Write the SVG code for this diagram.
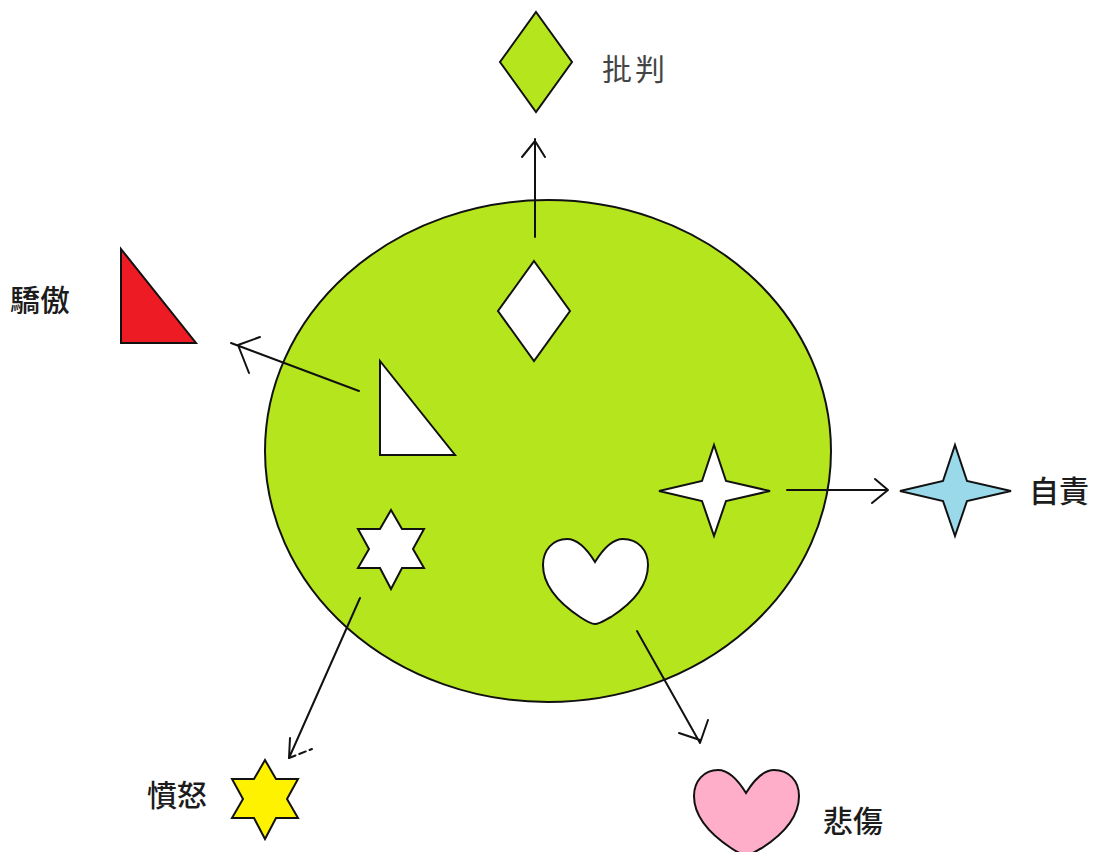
<svg xmlns="http://www.w3.org/2000/svg" width="1094" height="852" viewBox="0 0 1094 852">
<style>
.o{stroke:#111;stroke-width:2;stroke-linejoin:miter}
.c{fill:none;stroke:#111;stroke-width:2;stroke-linecap:round;stroke-linejoin:round}
.w{fill:#fff}
text{font-family:"Noto Sans CJK TC","Noto Sans CJK SC",sans-serif;font-size:30px;font-weight:500;fill:#1c1c1c}
</style>
<defs>
<path id="heart" d="M52,23 C44,10 35,0 24,0 C10,0 0,11 0,26 C0,50 22,68 37,78 C43,82 48,85 52,85 C57,85 62,81 68,78 C85,67 105,50 105,26 C105,11 95,0 80,0 C69,0 60,10 52,23Z"/>
<path id="star6" d="M33,0 L44,19 L66,19 L55,39 L66,58 L44,58 L33,79 L22,58 L0,58 L11,39 L0,19 L22,19Z"/>
<path id="star4" d="M55,0 L67,36 L111,46 L67,56 L55,91 L43,56 L0,46 L43,36Z"/>
<path id="dia" d="M36,0 L72,50 L36,100 L0,50Z"/>
<path id="tri" d="M0,0 L0,94 L75,94Z"/>
</defs>
<rect width="1094" height="852" fill="#fff"/>
<g id="circle"><ellipse cx="548" cy="451" rx="283" ry="251" fill="#b5e61d" class="o"/></g>
<g id="inner-diamond"><use href="#dia" x="498" y="261" class="o w"/></g>
<g id="inner-triangle"><use href="#tri" x="380" y="361" class="o w"/></g>
<g id="inner-star4"><use href="#star4" x="659" y="445" class="o w"/></g>
<g id="inner-star6"><use href="#star6" x="358" y="510" class="o w"/></g>
<g id="inner-heart"><use href="#heart" x="543" y="539" class="o w"/></g>
<g id="node-criticism"><use href="#dia" x="500" y="12" class="o" fill="#b5e61d"/><text x="602" y="80" letter-spacing="3" style="font-weight:400;fill:#444">批判</text></g>
<g id="node-pride"><use href="#tri" x="121" y="249" class="o" fill="#ed1c24"/><text x="10" y="311">驕傲</text></g>
<g id="node-blame"><use href="#star4" x="900" y="445" class="o" fill="#99d9ea"/><text x="1029" y="502">自責</text></g>
<g id="node-anger"><use href="#star6" x="232" y="760" class="o" fill="#fff200"/><text x="147" y="806">憤怒</text></g>
<g id="node-sorrow"><use href="#heart" x="694" y="770" class="o" fill="#ffaec9"/><text x="823" y="832">悲傷</text></g>
<g id="connectors">
<path class="c" d="M535,237 L535,139 M522,157 L535,141 L545,157"/>
<path class="c" d="M359,391 L231,343 M260,337 L238,345 L249,373"/>
<path class="c" d="M787,490 L888,490 M875,479 L888,490 L872,503"/>
<path class="c" d="M360,598 L289,758 M290,738 L289,758"/>
<path class="c" d="M289,758 L312,749" stroke-dasharray="7 4"/>
<path class="c" d="M637,631 L700,743 M679,733 L700,740 M708,720 L700,743"/>
</g>
</svg>
